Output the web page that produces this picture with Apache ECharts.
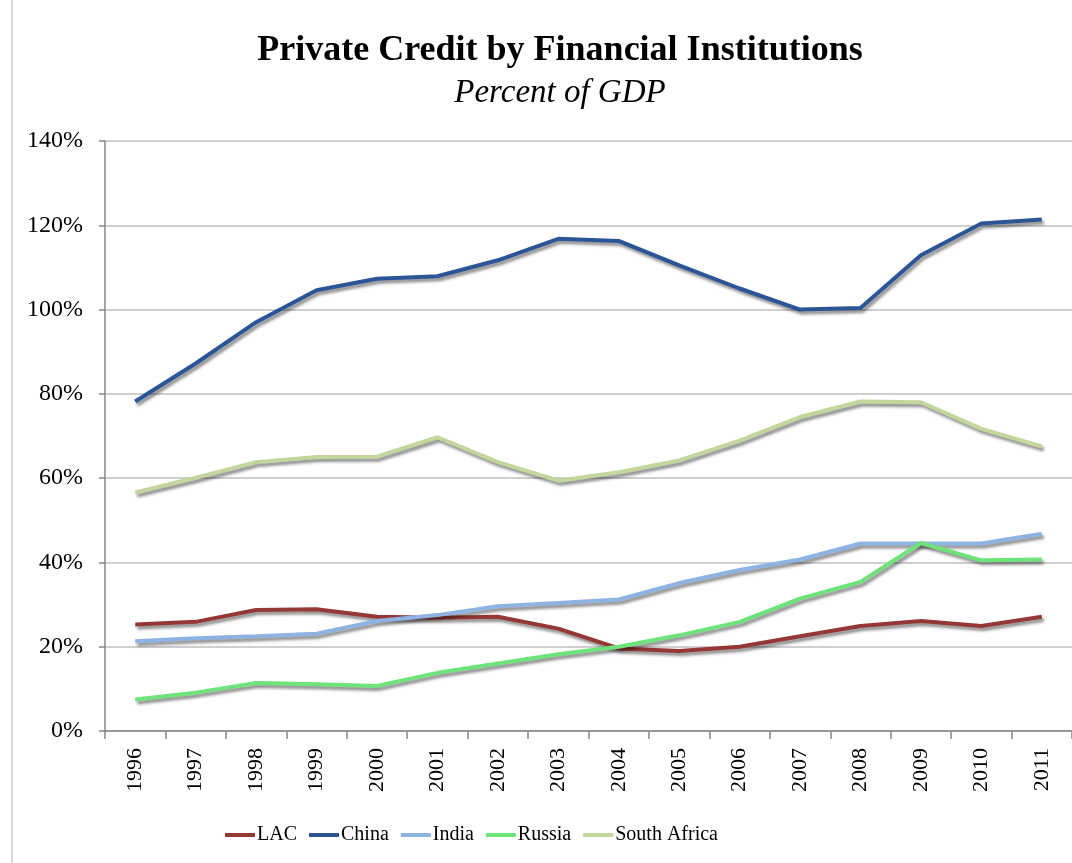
<!DOCTYPE html>
<html>
<head>
<meta charset="utf-8">
<title>Private Credit by Financial Institutions</title>
<script src="https://cdn.jsdelivr.net/npm/echarts@6/dist/echarts.min.js"></script>
<style>
  html, body { margin: 0; padding: 0; background: #fff; }
  #chart { width: 1072px; height: 863px; }
</style>
</head>
<body>
<div id="chart"></div>
<script>
var years = ['1996', '1997', '1998', '1999', '2000', '2001', '2002', '2003',
             '2004', '2005', '2006', '2007', '2008', '2009', '2010', '2011'];

var lac = [25.3, 25.9, 28.7, 28.9, 27.1, 26.9, 27.1, 24.3, 19.6, 19.0, 20.0, 22.5, 24.9, 26.1, 24.9, 27.1];
var china = [78.2, 87.2, 97.0, 104.6, 107.3, 107.9, 111.7, 116.8, 116.3, 110.5, 105.0, 100.0, 100.4, 112.9, 120.4, 121.4];
var india = [21.3, 22.0, 22.5, 23.1, 26.1, 27.5, 29.6, 30.4, 31.2, 35.1, 38.2, 40.7, 44.5, 44.5, 44.5, 46.8];
var russia = [7.5, 9.1, 11.4, 11.1, 10.7, 13.8, 16.0, 18.2, 20.0, 22.7, 25.9, 31.4, 35.4, 44.6, 40.5, 40.7];
var southAfrica = [56.6, 60.1, 63.8, 65.0, 65.1, 69.7, 63.8, 59.4, 61.4, 64.2, 68.9, 74.5, 78.2, 78.0, 71.7, 67.5];

var yTicks = [0, 20, 40, 60, 80, 100, 120, 140];

var seriesNames = ['LAC', 'China', 'India', 'Russia', 'South Africa'];
var seriesData = [lac, china, india, russia, southAfrica];
var seriesColors = ['#953735', '#2B5597', '#8DB3E2', '#6EE37A', '#C3D69B'];

var serif = '"Liberation Serif", "DejaVu Serif", serif';

var myChart = echarts.init(document.getElementById('chart'));

var series = [];
for (var i = 0; i < seriesNames.length; i++) {
  series.push({
    name: seriesNames[i],
    type: 'line',
    data: seriesData[i],
    symbol: 'none',
    smooth: false,
    color: seriesColors[i],
    lineStyle: {
      width: 4,
      color: seriesColors[i],
      shadowColor: 'rgba(0, 0, 0, 0.45)',
      shadowBlur: 3,
      shadowOffsetX: 2,
      shadowOffsetY: 3
    }
  });
}

var option = {
  backgroundColor: '#fff',
  animation: false,
  title: {
    text: 'Private Credit by Financial Institutions',
    subtext: 'Percent of GDP',
    left: 555,
    textAlign: 'center',
    top: 28,
    itemGap: 8,
    textStyle: {
      fontFamily: serif,
      fontWeight: 'bold',
      fontSize: 36,
      color: '#000'
    },
    subtextStyle: {
      fontFamily: serif,
      fontStyle: 'italic',
      fontSize: 33,
      color: '#000'
    }
  },
  legend: {
    data: seriesNames,
    left: 220,
    top: 820,
    icon: 'rect',
    itemWidth: 30,
    itemHeight: 4,
    itemGap: 12,
    textStyle: {
      fontFamily: serif,
      fontSize: 20,
      color: '#000',
      padding: [0, 0, 0, -3]
    }
  },
  grid: {
    left: 105,
    top: 141,
    width: 977,
    height: 590
  },
  xAxis: {
    type: 'category',
    data: years,
    boundaryGap: true,
    axisLine: { lineStyle: { color: '#868686', width: 1.5 } },
    axisTick: { show: true, length: 8, lineStyle: { color: '#868686', width: 1.5 } },
    axisLabel: {
      rotate: 90,
      margin: 17,
      fontFamily: serif,
      fontSize: 22,
      color: '#000'
    }
  },
  yAxis: {
    type: 'value',
    min: yTicks[0],
    max: yTicks[yTicks.length - 1],
    interval: 20,
    axisLine: { show: true, lineStyle: { color: '#868686', width: 1.5 } },
    axisTick: { show: true, inside: false, length: 6, lineStyle: { color: '#868686', width: 1.5 } },
    splitLine: { lineStyle: { color: '#BFBFBF', width: 1.5 } },
    axisLabel: {
      formatter: '{value}%',
      margin: 22,
      fontFamily: serif,
      fontSize: 24,
      color: '#000'
    }
  },
  graphic: [
    // thin frame line on the left edge
    {
      type: 'line',
      shape: { x1: 12, y1: 0, x2: 12, y2: 863 },
      style: { stroke: '#B0B0B0', lineWidth: 1 }
    }
  ],
  series: series
};

myChart.setOption(option);
</script>
</body>
</html>
